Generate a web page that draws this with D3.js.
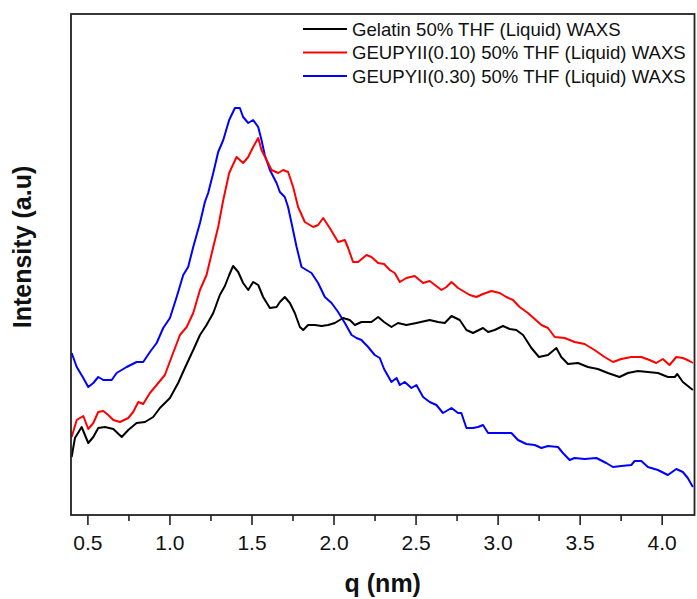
<!DOCTYPE html>
<html lang="en">
<head>
    <meta charset="UTF-8">
    <script src="https://d3js.org/d3.v7.min.js"></script>
    <style>
        html, body { margin: 0; background: #fff; }
        svg { display: block; }
        text { font-family: Arial, "Liberation Sans", sans-serif; }
    </style>
    <title>WAXS</title>
</head>
<body>
<svg id="svg"></svg>
<script>
    // q (nm) and intensity (arbitrary units)
    const qGel = [0.404,0.424,0.465,0.505,0.536,0.566,0.607,0.658,0.709,0.749,0.800,0.851,0.901,0.942,1.003,1.053,1.094,1.145,1.186,1.226,1.267,1.307,1.338,1.364,1.388,1.419,1.449,1.480,1.510,1.541,1.571,1.612,1.653,1.673,1.703,1.734,1.764,1.795,1.815,1.845,1.886,1.927,1.967,2.008,2.058,2.099,2.130,2.170,2.231,2.272,2.308,2.353,2.393,2.444,2.505,2.586,2.637,2.678,2.719,2.769,2.810,2.850,2.911,2.942,2.982,3.033,3.074,3.114,3.155,3.206,3.252,3.307,3.358,3.388,3.429,3.490,3.550,3.611,3.672,3.743,3.794,3.855,3.916,3.977,4.038,4.080,4.095,4.129,4.190];
    const iGel = [58,77,88,72,78,87,88,86,78,85,92,93,98,107,117,132,147,165,180,190,202,220,229,240,249,243,232,225,233,230,218,207,208,213,218,212,202,188,185,190,190,189,190,192,197,195,190,193,193,198,193,188,192,190,192,195,193,192,199,195,185,182,187,183,185,189,186,185,180,167,158,160,167,158,151,152,148,146,142,138,142,144,143,142,138,138,141,133,125];

    const q010 = [0.404,0.435,0.475,0.505,0.536,0.566,0.597,0.627,0.658,0.698,0.749,0.779,0.810,0.840,0.881,0.922,0.972,1.013,1.064,1.105,1.145,1.186,1.226,1.267,1.297,1.328,1.364,1.409,1.449,1.480,1.510,1.541,1.561,1.592,1.622,1.663,1.693,1.723,1.754,1.784,1.825,1.876,1.906,1.937,1.977,2.028,2.069,2.089,2.119,2.150,2.201,2.231,2.272,2.308,2.343,2.373,2.404,2.444,2.495,2.546,2.586,2.658,2.688,2.719,2.759,2.830,2.871,2.911,2.962,3.013,3.053,3.094,3.134,3.185,3.226,3.267,3.307,3.348,3.409,3.469,3.530,3.591,3.652,3.703,3.754,3.815,3.876,3.926,3.967,4.007,4.048,4.089,4.129,4.170,4.190];
    const i010 = [78,95,99,86,92,103,104,100,95,93,97,103,113,111,122,130,140,158,180,188,202,225,240,268,288,315,342,358,352,358,368,377,365,355,345,342,345,343,328,308,293,288,290,297,287,273,275,267,253,253,260,258,252,251,245,242,233,237,239,232,234,225,228,233,227,220,218,221,224,222,218,215,208,202,196,190,187,178,177,173,171,165,158,153,156,158,158,155,152,156,150,158,157,154,152];

    const q030 = [0.404,0.435,0.475,0.505,0.536,0.566,0.597,0.648,0.678,0.739,0.800,0.840,0.881,0.922,0.962,1.003,1.044,1.084,1.114,1.145,1.186,1.216,1.236,1.267,1.297,1.328,1.364,1.399,1.429,1.449,1.480,1.510,1.541,1.561,1.581,1.612,1.653,1.673,1.703,1.723,1.744,1.775,1.805,1.835,1.866,1.906,1.947,1.988,2.028,2.069,2.110,2.140,2.170,2.211,2.251,2.282,2.308,2.353,2.384,2.404,2.434,2.475,2.505,2.546,2.586,2.627,2.667,2.719,2.759,2.779,2.810,2.850,2.881,2.911,2.942,2.982,3.033,3.084,3.124,3.175,3.226,3.267,3.307,3.368,3.398,3.439,3.469,3.530,3.602,3.662,3.703,3.754,3.815,3.835,3.876,3.916,3.977,4.038,4.089,4.129,4.159,4.190];
    const i030 = [162,148,137,128,132,138,135,135,142,148,153,153,163,172,187,197,218,240,248,268,292,313,322,342,363,375,395,407,407,398,392,395,388,375,360,345,332,323,318,308,292,268,248,245,242,232,218,212,203,192,180,177,175,168,160,157,146,133,137,130,133,127,130,118,113,110,102,107,102,102,87,87,88,90,82,82,82,82,75,71,70,67,69,68,62,55,57,56,57,52,48,49,50,54,54,48,45,40,46,43,37,28];

    const names = ['Gelatin 50% THF (Liquid) WAXS', 'GEUPYII(0.10) 50% THF (Liquid) WAXS', 'GEUPYII(0.30) 50% THF (Liquid) WAXS'];
    const colors = ['#000000', '#ff0000', '#0000ff'];
    const majorTicks = [0.5, 1.0, 1.5, 2.0, 2.5, 3.0, 3.5, 4.0];
    const minorTicks = [0.75, 1.25, 1.75, 2.25, 2.75, 3.25, 3.75];

    const width = 697, height = 599;
    const margin = { top: 14, left: 71, bottom: 84, right: 2.5 };
    const innerWidth = width - margin.left - margin.right;
    const innerHeight = height - margin.top - margin.bottom;

    const svg = d3.select('#svg').attr('width', width).attr('height', height);
    const g = svg.append('g').attr('transform', `translate(${margin.left}, ${margin.top})`);

    const x = d3.scaleLinear().domain([0.4, 4.2]).range([0, innerWidth]);
    const y = d3.scaleLinear().domain([0, 501]).range([innerHeight, 0]);

    const series = [
        { name: names[0], color: colors[0], q: qGel, v: iGel },
        { name: names[1], color: colors[1], q: q010, v: i010 },
        { name: names[2], color: colors[2], q: q030, v: i030 }
    ];

    const line = d3.line().x(d => x(d[0])).y(d => y(d[1]));

    // curves (black drawn last so it sits on top)
    [series[2], series[1], series[0]].forEach(s => {
        g.append('path')
            .datum(s.q.map((q, i) => [q, s.v[i]]))
            .attr('fill', 'none')
            .attr('stroke', s.color)
            .attr('stroke-width', 2)
            .attr('stroke-linejoin', 'round')
            .attr('d', line);
    });

    // bottom axis: majors with labels
    const xAxis = g.append('g').attr('transform', `translate(0, ${innerHeight})`)
        .call(d3.axisBottom(x).tickValues(majorTicks).tickSize(10).tickPadding(10).tickFormat(d3.format('.1f')));
    xAxis.select('.domain').remove();
    xAxis.selectAll('.tick line').attr('stroke', '#222').attr('stroke-width', 1.6);
    xAxis.selectAll('.tick text').attr('font-size', 21).attr('fill', '#111')
        .style('font-family', 'Arial, "Liberation Sans", sans-serif');

    // minor ticks, no labels
    const xMinor = g.append('g').attr('transform', `translate(0, ${innerHeight})`)
        .call(d3.axisBottom(x).tickValues(minorTicks).tickSize(6));
    xMinor.select('.domain').remove();
    xMinor.selectAll('.tick text').remove();
    xMinor.selectAll('.tick line').attr('stroke', '#222').attr('stroke-width', 1.6);

    // frame
    g.append('rect')
        .attr('width', innerWidth).attr('height', innerHeight)
        .attr('fill', 'none').attr('stroke', '#222').attr('stroke-width', 1.8);

    // axis titles
    svg.append('text')
        .attr('x', margin.left + x(2.3)).attr('y', 592)
        .attr('text-anchor', 'middle')
        .attr('font-size', 25).attr('font-weight', 'bold').attr('fill', '#111')
        .text('q (nm)');

    svg.append('text')
        .attr('transform', 'translate(31, 247) rotate(-90)')
        .attr('text-anchor', 'middle')
        .attr('font-size', 25).attr('font-weight', 'bold').attr('fill', '#111')
        .text('Intensity (a.u)');

    // legend
    const legend = svg.append('g').attr('transform', 'translate(303, 29)');
    series.forEach((s, i) => {
        const row = legend.append('g').attr('transform', `translate(0, ${i * 23.5})`);
        row.append('line').attr('x1', 0).attr('x2', 44).attr('y1', 0).attr('y2', 0)
            .attr('stroke', s.color).attr('stroke-width', 2.2);
        row.append('text').attr('x', 49).attr('y', 0).attr('dy', '0.35em')
            .attr('font-size', 18.6).attr('fill', '#111')
            .text(s.name);
    });
</script>
</body>
</html>
